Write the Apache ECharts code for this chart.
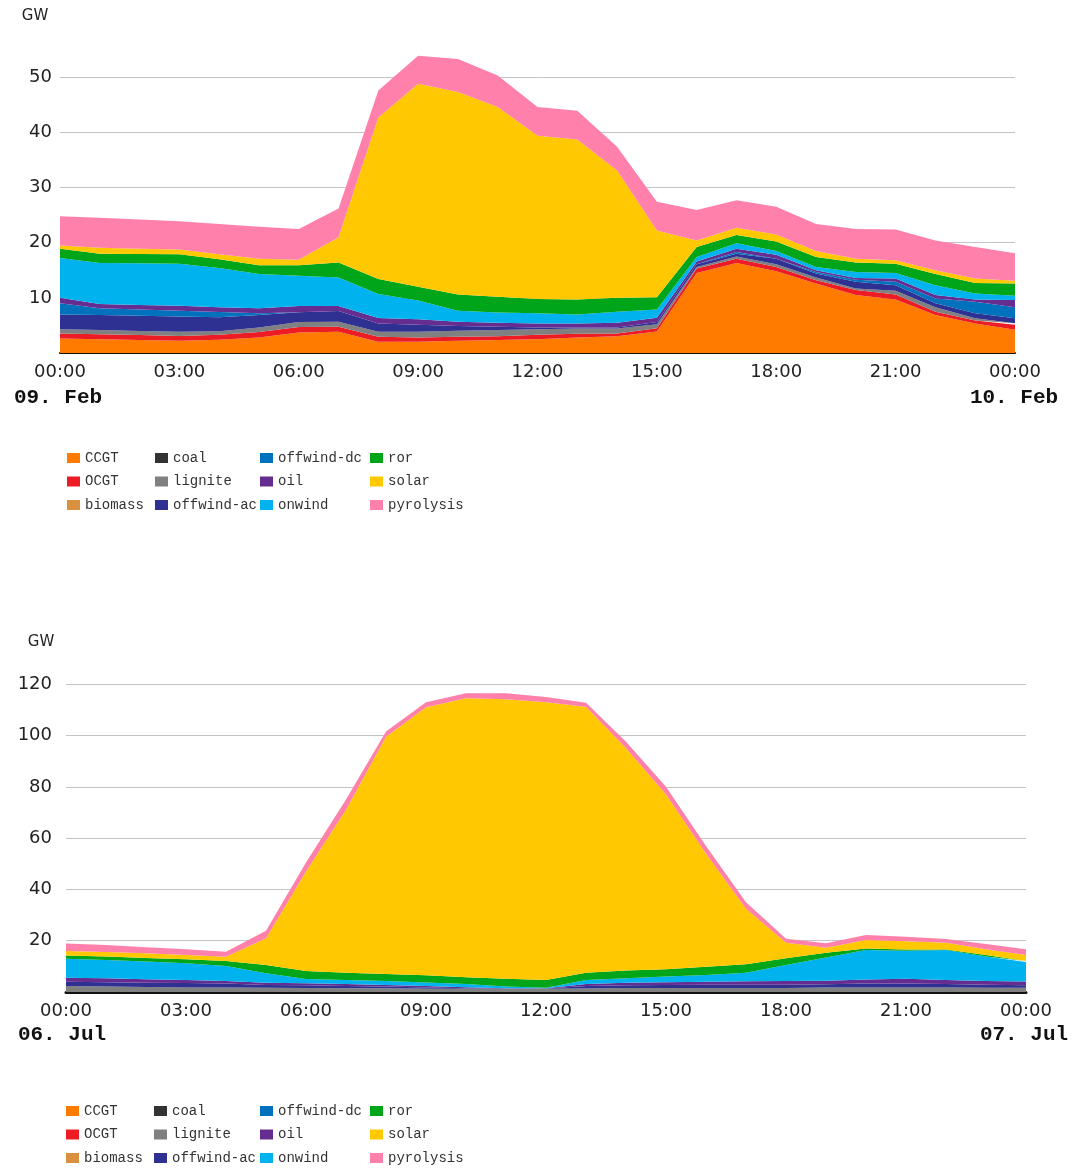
<!DOCTYPE html>
<html>
<head>
<meta charset="utf-8">
<script src="https://cdn.jsdelivr.net/npm/echarts@6/dist/echarts.min.js"></script>
<style>
  html, body { margin: 0; padding: 0; background: #fff; }
  #chart { width: 1078px; height: 1168px; }
</style>
</head>
<body>
<div id="chart"></div>
<script>
// hourly time axis, 00:00 .. next day 00:00
const hours = ['00:00', '01:00', '02:00', '03:00', '04:00', '05:00', '06:00', '07:00', '08:00',
  '09:00', '10:00', '11:00', '12:00', '13:00', '14:00', '15:00', '16:00', '17:00', '18:00',
  '19:00', '20:00', '21:00', '22:00', '23:00', '00:00']

const carriers = ['CCGT', 'OCGT', 'biomass', 'coal', 'lignite', 'offwind-ac', 'offwind-dc', 'oil', 'onwind', 'ror', 'solar', 'pyrolysis']
const carrierColors = ['#ff7b00', '#ed1c24', '#d9913f', '#333333', '#808080', '#2e3192', '#0071bc', '#662d91', '#00b2ee', '#00a51a', '#ffc800', '#ff80ab']

// ---- 09. Feb (GW) ----
const febCCGT = [2.65, 2.5, 2.35, 2.2, 2.4, 2.8, 3.7, 3.85, 2.05, 2.05, 2.2, 2.35, 2.5, 2.8, 3.05, 3.9, 14.5, 16.3, 14.8, 12.6, 10.5, 9.7, 6.9, 5.35, 4.2]
const febOCGT = [0.9, 0.9, 0.9, 0.9, 0.9, 1.0, 1.0, 0.9, 0.9, 0.75, 0.75, 0.7, 0.8, 0.7, 0.5, 0.6, 0.8, 0.8, 0.8, 0.6, 0.9, 0.9, 0.6, 0.55, 0.9]
const febBiomass = [0, 0, 0, 0, 0, 0, 0, 0, 0, 0, 0, 0, 0, 0, 0, 0, 0, 0, 0, 0, 0, 0, 0, 0, 0]
const febCoal = [0, 0, 0, 0, 0, 0, 0, 0, 0, 0, 0, 0, 0, 0, 0, 0, 0, 0, 0, 0, 0, 0, 0, 0, 0]
const febLignite = [0.75, 0.75, 0.75, 0.75, 0.65, 0.8, 0.9, 0.9, 0.9, 1.05, 1.1, 1.1, 1.0, 0.95, 0.9, 0.7, 0.3, 0.4, 0.5, 0.5, 0.3, 0.7, 0.8, 0.4, 0.3]
const febOffwindAc = [2.7, 2.75, 2.75, 2.75, 2.55, 2.3, 1.8, 1.95, 1.5, 1.25, 0.85, 0.6, 0.3, 0.15, 0.15, 0.4, 0.5, 0.5, 1.0, 0.7, 1.2, 1.0, 0.7, 0.9, 0.9]
const febOffwindDc = [2.0, 1.2, 1.15, 1.05, 0.95, 0.3, 0, 0, 0, 0, 0, 0, 0, 0, 0, 0, 0, 0.3, 0, 0.3, 0.4, 0.6, 0.9, 2.1, 2.0]
const febOil = [1.0, 0.8, 0.8, 0.9, 0.85, 0.9, 1.1, 0.9, 1.0, 1.0, 0.75, 0.75, 0.75, 0.75, 0.9, 0.8, 0.5, 0.6, 0.7, 0.3, 0.3, 0.6, 0.6, 0.4, 1.3]
const febOnwind = [7.2, 7.4, 7.55, 7.65, 7.1, 6.2, 5.5, 5.2, 4.35, 3.4, 2.0, 1.85, 1.85, 1.65, 2.0, 1.5, 0.8, 1.0, 0.7, 0.6, 1.1, 1.0, 1.8, 1.1, 0.8]
const febRor = [1.7, 1.7, 1.7, 1.7, 1.6, 1.6, 1.9, 2.7, 2.7, 2.5, 2.95, 2.85, 2.6, 2.7, 2.5, 2.2, 1.8, 1.5, 1.7, 1.8, 1.7, 1.7, 2.0, 1.9, 2.2]
const febSolar = [0.6, 1.1, 0.95, 0.85, 0.9, 1.2, 1.0, 4.6, 29.3, 36.8, 36.7, 34.4, 29.6, 29.0, 23.1, 12.1, 1.2, 1.3, 1.3, 1.1, 0.7, 0.6, 0.7, 0.8, 0.5]
const febPyrolysis = [5.3, 5.4, 5.3, 5.15, 5.5, 5.8, 5.6, 5.2, 4.9, 5.1, 6.0, 5.7, 5.2, 5.2, 4.3, 5.2, 5.5, 5.0, 5.0, 4.9, 5.4, 5.6, 5.4, 5.7, 5.0]

// ---- 06. Jul (GW) ----
const julCCGT = [0, 0, 0, 0, 0, 0, 0, 0, 0, 0, 0, 0, 0, 0, 0, 0, 0, 0, 0, 0, 0, 0, 0, 0, 0]
const julOCGT = [0, 0, 0, 0, 0, 0, 0, 0, 0, 0, 0, 0, 0, 0, 0, 0, 0, 0, 0, 0, 0, 0, 0, 0, 0]
const julBiomass = [0, 0, 0, 0, 0, 0, 0, 0, 0, 0, 0, 0, 0, 0, 0, 0, 0, 0, 0, 0, 0, 0, 0, 0, 0]
const julCoal = [0, 0, 0, 0, 0, 0, 0, 0, 0, 0, 0, 0, 0, 0, 0, 0, 0, 0, 0, 0, 0, 0, 0, 0, 0]
const julLignite = [2.3, 2.1, 1.95, 1.8, 1.8, 1.7, 1.55, 1.45, 1.45, 1.3, 1.3, 1.3, 1.3, 1.4, 1.55, 1.55, 1.55, 1.55, 1.55, 1.8, 1.8, 1.8, 1.8, 1.7, 1.7]
const julOffwindAc = [1.7, 1.7, 1.7, 1.7, 1.55, 1.05, 1.05, 0.9, 0.65, 0.5, 0.15, 0.1, 0.1, 0.9, 1.05, 1.2, 1.3, 1.3, 1.3, 1.2, 1.55, 1.55, 1.3, 1.15, 0.9]
const julOffwindDc = [0, 0, 0, 0, 0, 0, 0, 0, 0, 0, 0, 0, 0, 0, 0, 0, 0, 0, 0, 0, 0, 0, 0, 0, 0]
const julOil = [1.55, 1.55, 1.3, 1.2, 0.9, 0.9, 0.8, 0.8, 0.65, 0.5, 0.4, 0.1, 0.1, 0.8, 1.05, 1.05, 1.15, 1.3, 1.45, 1.4, 1.55, 1.8, 1.55, 1.45, 1.45]
const julOnwind = [7.4, 7.15, 6.9, 6.5, 5.85, 3.65, 1.7, 1.55, 1.55, 1.45, 1.3, 0.6, 0.2, 1.55, 1.7, 2.2, 2.6, 3.4, 6.25, 9.1, 11.45, 10.9, 11.7, 9.5, 7.65]
const julRor = [1.3, 1.3, 1.45, 1.55, 1.95, 3.25, 3.1, 2.85, 2.75, 2.75, 2.6, 3.1, 3.0, 2.85, 3.0, 2.85, 3.25, 3.25, 2.6, 1.8, 0.65, 0.5, 0.25, 0.65, 0.4]
const julSolar = [1.7, 1.8, 1.8, 1.7, 1.7, 10.4, 38.8, 63.5, 92.5, 104.5, 108.8, 109, 108.3, 103.7, 86.7, 68.2, 44.1, 21.7, 6.1, 2.0, 3.25, 3.25, 2.6, 2.2, 2.35]
const julPyrolysis = [3.0, 2.7, 2.35, 2.2, 1.95, 2.9, 3.5, 4.0, 2.0, 2.0, 2.0, 2.3, 2.0, 1.6, 2.5, 3.0, 3.0, 2.5, 1.5, 1.7, 1.95, 1.7, 1.45, 2.1, 2.2]

const febData = [febCCGT, febOCGT, febBiomass, febCoal, febLignite, febOffwindAc, febOffwindDc, febOil, febOnwind, febRor, febSolar, febPyrolysis]
const julData = [julCCGT, julOCGT, julBiomass, julCoal, julLignite, julOffwindAc, julOffwindDc, julOil, julOnwind, julRor, julSolar, julPyrolysis]

const labelFont = 'DejaVu Sans'
const monoFont = 'Liberation Mono'

function makeSeries (dataList, gridIdx, stackName) {
  return dataList.map((d, i) => ({
    name: carriers[i],
    type: 'line',
    xAxisIndex: gridIdx,
    yAxisIndex: gridIdx,
    stack: stackName,
    symbol: 'none',
    lineStyle: { width: 0 },
    itemStyle: { color: carrierColors[i] },
    areaStyle: { color: carrierColors[i], opacity: 1 },
    data: d
  }))
}

// 4 columns of 3 items each, laid out column by column
function makeLegends (top, lefts) {
  const legends = []
  for (let c = 0; c < 4; c++) {
    legends.push({
      orient: 'vertical',
      left: lefts[c],
      top: top,
      padding: 0,
      icon: 'rect',
      itemWidth: 13,
      itemHeight: 10,
      itemGap: 9.5,
      selectedMode: false,
      data: carriers.slice(c * 3, c * 3 + 3),
      textStyle: { fontFamily: monoFont, fontSize: 14, lineHeight: 14, color: '#333' }
    })
  }
  return legends
}

function makeXAxis (gridIdx, width) {
  return {
    type: 'category',
    gridIndex: gridIdx,
    boundaryGap: false,
    data: hours,
    axisLine: { show: true, lineStyle: { color: '#111', width: width } },
    axisTick: { show: false },
    axisLabel: { interval: 2, margin: 10, fontFamily: labelFont, fontSize: 18, color: '#222' },
    splitLine: { show: false }
  }
}

function makeYAxis (gridIdx, max, interval, margin) {
  return {
    type: 'value',
    gridIndex: gridIdx,
    min: 0,
    max: max,
    interval: interval,
    axisLine: { show: false },
    axisTick: { show: false },
    axisLabel: { margin: margin, showMaxLabel: false, showMinLabel: false, fontFamily: labelFont, fontSize: 18, color: '#222' },
    splitLine: { show: true, showMinLine: false, showMaxLine: false, lineStyle: { color: '#c4c4c4', width: 1 } }
  }
}

const chart = echarts.init(document.getElementById('chart'))
chart.setOption({
  animation: false,
  backgroundColor: '#fff',
  grid: [
    { left: 60, right: 63, top: 22, bottom: 815 },
    { left: 66, right: 52, top: 633, bottom: 176 }
  ],
  xAxis: [makeXAxis(0, 2), makeXAxis(1, 3)],
  yAxis: [makeYAxis(0, 60, 10, 8), makeYAxis(1, 140, 20, 14)],
  legend: makeLegends(451, [67, 155, 260, 370]).concat(makeLegends(1104, [66, 154, 260, 370])),
  graphic: [
    { type: 'text', style: { text: 'GW', x: 35, y: 16, align: 'center', verticalAlign: 'middle', font: '15px "DejaVu Sans"', fill: '#222' } },
    { type: 'text', style: { text: 'GW', x: 41, y: 642, align: 'center', verticalAlign: 'middle', font: '15px "DejaVu Sans"', fill: '#222' } },
    { type: 'text', style: { text: '09. Feb', x: 58, y: 398, align: 'center', verticalAlign: 'middle', font: 'bold 21px "Liberation Mono"', fill: '#111' } },
    { type: 'text', style: { text: '10. Feb', x: 1014, y: 398, align: 'center', verticalAlign: 'middle', font: 'bold 21px "Liberation Mono"', fill: '#111' } },
    { type: 'text', style: { text: '06. Jul', x: 62, y: 1035, align: 'center', verticalAlign: 'middle', font: 'bold 21px "Liberation Mono"', fill: '#111' } },
    { type: 'text', style: { text: '07. Jul', x: 1024, y: 1035, align: 'center', verticalAlign: 'middle', font: 'bold 21px "Liberation Mono"', fill: '#111' } }
  ],
  series: makeSeries(febData, 0, 'feb').concat(makeSeries(julData, 1, 'jul'))
})
</script>
</body>
</html>
